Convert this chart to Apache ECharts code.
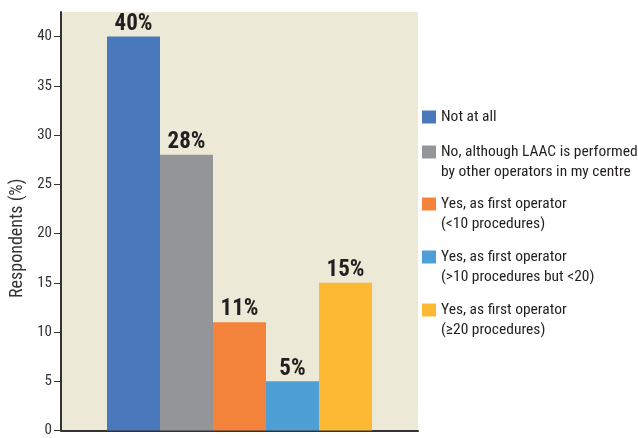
<!DOCTYPE html>
<html>
<head>
<meta charset="utf-8">
<script src="https://cdn.jsdelivr.net/npm/echarts@6/dist/echarts.min.js"></script>
<style>html,body{margin:0;padding:0;background:#fff}#c{width:638px;height:438px}</style>
</head>
<body>
<div id="c"></div>
<script>
var seriesNames = [
  'Not at all',
  'No, although LAAC is performed\nby other operators in my centre',
  'Yes, as first operator\n(<10 procedures)',
  'Yes, as first operator\n(>10 procedures but <20)',
  'Yes, as first operator\n(\u226520 procedures)'
];
var seriesValues = [40, 28, 11, 5, 15];
var seriesColors = ['#4A78BC', '#939598', '#F4843B', '#4E9FD5', '#FDB933'];
var categories = [''];
var yTicks = [0, 5, 10, 15, 20, 25, 30, 35, 40];

var FONT = '"Roboto Condensed", "DejaVu Sans Condensed", sans-serif';
var legendTops = [107, 122, 174, 227, 280];

var chart = echarts.init(document.getElementById('c'));
var series = seriesNames.map(function (n, i) {
  return {
    name: n,
    type: 'bar',
    data: [seriesValues[i]],
    barWidth: 53,
    barGap: '0%',
    itemStyle: { color: seriesColors[i] },
    label: {
      show: true, position: 'top', distance: 1,
      formatter: '{c}%', fontFamily: FONT, fontWeight: 'bold', fontSize: 23, color: '#231F20'
    }
  };
});
var legends = seriesNames.map(function (n, i) {
  return {
    data: [n], left: 422, top: legendTops[i], padding: 0, orient: 'vertical',
    itemWidth: 14, itemHeight: 13, icon: 'rect', selectedMode: false,
    formatter: function (name) { return name.indexOf('\n') >= 0 ? ' \n' + name : name; },
    textStyle: { fontFamily: FONT, fontSize: 15.5, color: '#231F20', lineHeight: 20 }
  };
});
chart.setOption({
  animation: false,
  textStyle: { fontFamily: FONT },
  grid: { left: 61, top: 12, width: 357, bottom: 4, show: true, backgroundColor: '#ECE9D7', borderWidth: 0 },
  legend: legends,
  xAxis: {
    type: 'category', data: categories,
    axisLine: { lineStyle: { color: '#333', width: 2 } },
    axisTick: { show: false }, axisLabel: { show: false }
  },
  yAxis: {
    type: 'value', min: 0, max: 42.5, interval: 5,
    name: 'Respondents (%)', nameLocation: 'middle', nameGap: 29,
    nameTextStyle: { fontFamily: FONT, fontSize: 18, color: '#333', padding: [0, 34, 0, 0] },
    axisLine: { show: true, lineStyle: { color: '#333', width: 2 } },
    axisTick: { show: true, length: 7, customValues: yTicks, lineStyle: { color: '#333' } },
    axisLabel: { customValues: yTicks, fontFamily: FONT, fontSize: 15, color: '#333', margin: 9 },
    splitLine: { show: false }
  },
  series: series
});
</script>
</body>
</html>
